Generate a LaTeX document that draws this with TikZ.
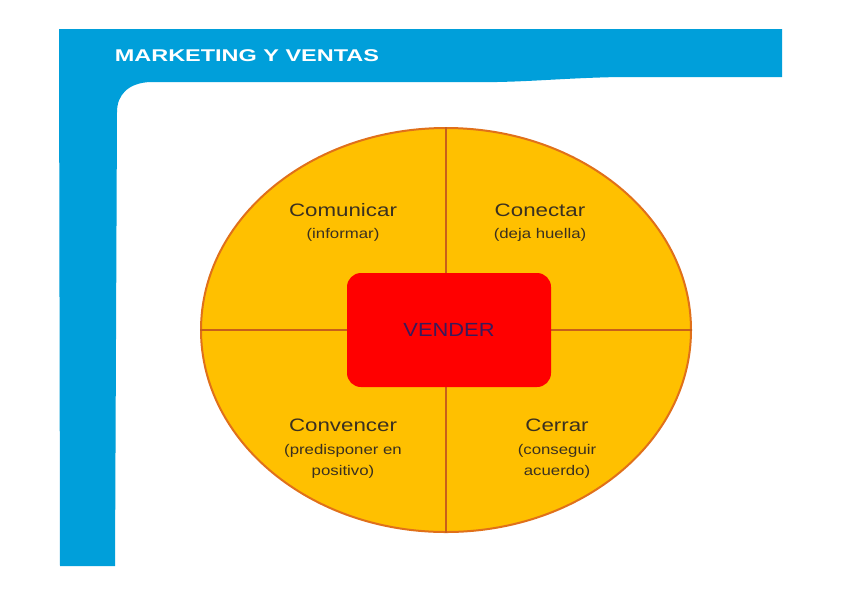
\documentclass[tikz,border=0pt]{standalone}
\usepackage{fontspec}
\setmainfont{Liberation Sans}
\usetikzlibrary{shapes.geometric}
\definecolor{bandblue}{HTML}{009FDA}
\definecolor{ovalfill}{HTML}{FFC000}
\definecolor{ovaledge}{HTML}{E0701A}
\definecolor{divline}{HTML}{C8601A}
\definecolor{centerred}{HTML}{FF0000}
\definecolor{labeltext}{HTML}{3A3020}
\definecolor{centertext}{HTML}{3A1A5A}
\begin{document}
\begin{tikzpicture}[x=1pt,y=-1pt,
  quadtitle/.style={text=labeltext,align=center,xscale=1.24,font=\fontsize{18}{22}\selectfont},
  quadsub/.style={text=labeltext,align=center,xscale=1.2,font=\fontsize{14}{21}\selectfont},
  band/.style={fill=bandblue,draw=none},
  divider/.style={draw=divline,line width=2pt}]
\useasboundingbox (0,0) rectangle (842,595);
\fill[white] (0,0) rectangle (842,595);
% blue frame
\path[band] (59,29) -- (782,29) -- (782,77) -- (620,77)
  .. controls (560,78) and (520,83) .. (470,82) -- (150,82)
  .. controls (128,83) and (117,95) .. (117,112) -- (115,566) -- (60,566) -- cycle;
\node[anchor=west,text=white,font=\bfseries\fontsize{17}{20}\selectfont,xscale=1.38,transform shape] (title) at (110,56) {MARKETING Y VENTAS};
% oval
\node[ellipse,draw=ovaledge,fill=ovalfill,line width=2pt,minimum width=490pt,minimum height=404pt,inner sep=0pt] (oval) at (446,330) {};
\draw[divider] (oval.north) -- (oval.south);
\draw[divider] (oval.west) -- (oval.east);
% center box
\node[draw=none,fill=centerred,rounded corners=14pt,minimum width=204pt,minimum height=114pt,text=centertext,font=\fontsize{19}{20}\selectfont] (vender) at (449,330) {\scalebox{1.15}[1]{VENDER}};
% quadrant labels
\node[quadtitle] (t1) at (343,210) {Comunicar};
\node[quadsub] (s1) at (343,235) {(informar)};
\node[quadtitle] (t2) at (540,210) {Conectar};
\node[quadsub] (s2) at (540,235) {(deja huella)};
\node[quadtitle] (t3) at (343,425) {Convencer};
\node[quadsub] (s3) at (343,461) {(predisponer en\\positivo)};
\node[quadtitle] (t4) at (557,425) {Cerrar};
\node[quadsub] (s4) at (557,461) {(conseguir\\acuerdo)};
\end{tikzpicture}
\end{document}
